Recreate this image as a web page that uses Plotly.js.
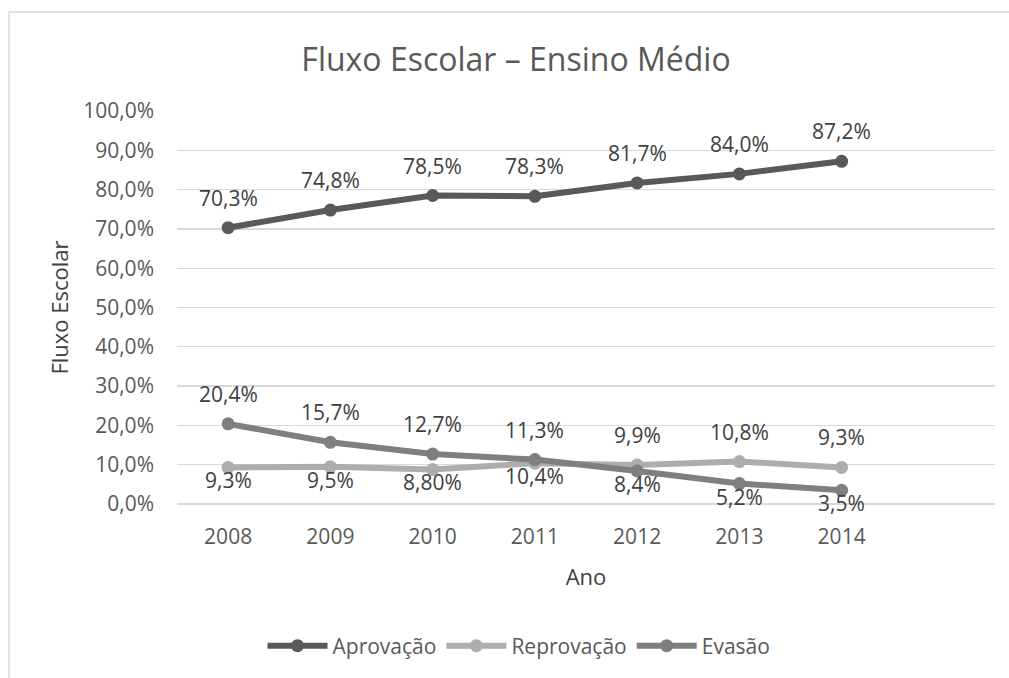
<!DOCTYPE html>
<html>
<head>
<meta charset="utf-8">
<script src="https://cdn.plot.ly/plotly-3.0.1.min.js"></script>
<style>html,body{margin:0;padding:0;background:#fff;}#chart{width:1009px;height:678px;}</style>
</head>
<body>
<div id="chart"></div>
<script>
const years = ['2008','2009','2010','2011','2012','2013','2014'];
const aprovacao = [70.3, 74.8, 78.5, 78.3, 81.7, 84.0, 87.2];
const reprovacao = [9.3, 9.5, 8.8, 10.4, 9.9, 10.8, 9.3];
const evasao = [20.4, 15.7, 12.7, 11.3, 8.4, 5.2, 3.5];
const aprovacaoLabels = ['70,3%','74,8%','78,5%','78,3%','81,7%','84,0%','87,2%'];
const reprovacaoLabels = ['9,3%','9,5%','8,80%','10,4%','9,9%','10,8%','9,3%'];
const evasaoLabels = ['20,4%','15,7%','12,7%','11,3%','8,4%','5,2%','3,5%'];
const aprovacaoSide = ['above','above','above','above','above','above','above'];
const reprovacaoSide = ['below','below','below','below','above','above','above'];
const evasaoSide = ['above','above','above','above','below','below','below'];

const font = 'Open Sans, Noto Sans, sans-serif';
const labelFont = {family: font, size: 21, color: '#404040'};

function series(name, y, color) {
  return {
    type: 'scatter', mode: 'lines+markers', name: name,
    x: years, y: y, cliponaxis: false,
    line: {color: color, width: 6},
    marker: {color: color, size: 13},
    hoverinfo: 'skip'
  };
}

// category axis: annotation x given as the category index
function labels(y, text, side) {
  return y.map((v, i) => ({
    x: years.indexOf(years[i]), y: v, xref: 'x', yref: 'y', text: text[i], showarrow: false,
    font: labelFont, yanchor: 'middle', xanchor: 'center',
    yshift: side[i] === 'above' ? 30 : -13
  }));
}

const data = [
  series('Aprovação', aprovacao, '#595959'),
  series('Reprovação', reprovacao, '#adadad'),
  series('Evasão', evasao, '#7f7f7f')
];

const annotations = [].concat(
  labels(aprovacao, aprovacaoLabels, aprovacaoSide),
  labels(reprovacao, reprovacaoLabels, reprovacaoSide),
  labels(evasao, evasaoLabels, evasaoSide)
);

const layout = {
  width: 1009, height: 678,
  paper_bgcolor: '#ffffff', plot_bgcolor: '#ffffff',
  separators: ',.',
  margin: {l: 177, r: 14, t: 111, b: 174},
  font: {family: font, color: '#595959'},
  title: {text: 'Fluxo Escolar – Ensino Médio', font: {family: font, size: 32, color: '#595959'},
          x: 516/1009, xanchor: 'center', xref: 'container', y: 1 - 60/678, yanchor: 'middle', yref: 'container'},
  xaxis: {
    type: 'category', categoryorder: 'array', categoryarray: years,
    range: [-0.5, 7.5], showgrid: false, zeroline: false, showline: false,
    ticks: '', ticklabelstandoff: 18, tickfont: {family: font, size: 21, color: '#595959'},
    title: {text: 'Ano', font: {family: font, size: 22, color: '#404040'}, standoff: 20}
  },
  yaxis: {
    range: [0, 100], dtick: 10, tickformat: '.1f', ticksuffix: '%',
    showgrid: true, gridcolor: '#d9d9d9', gridwidth: 1.3,
    zeroline: true, zerolinecolor: '#d9d9d9', zerolinewidth: 1.3,
    showline: false, ticks: '', ticklabelstandoff: 22,
    tickfont: {family: font, size: 21, color: '#595959'},
    title: {text: 'Fluxo Escolar', font: {family: font, size: 22, color: '#404040'}, standoff: 8}
  },
  annotations: annotations,
  showlegend: true,
  legend: {orientation: 'h', xref: 'container', yref: 'container', x: 519/1009, xanchor: 'center',
           y: 1 - 646/678, yanchor: 'middle', font: {family: font, size: 21, color: '#595959'},
           itemwidth: 60, tracegroupgap: 0},
  shapes: [{type: 'rect', xref: 'paper', yref: 'paper', x0: (9-177)/818, x1: (1030-177)/818,
            y0: (504-700)/393, y1: (504-12)/393,
            line: {color: '#d9d9d9', width: 1.5}, fillcolor: 'rgba(0,0,0,0)', layer: 'below'}]
};

Plotly.newPlot('chart', data, layout, {displayModeBar: false, staticPlot: true});
</script>
</body>
</html>
